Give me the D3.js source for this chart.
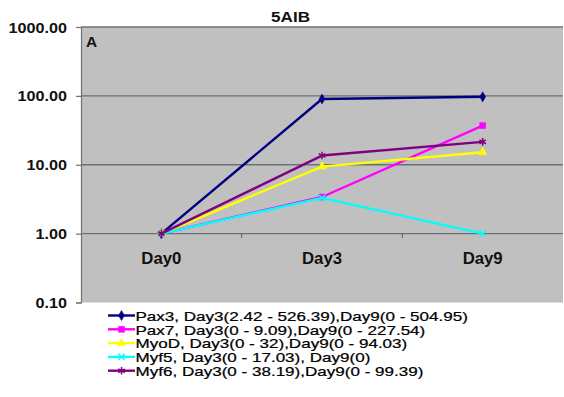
<!DOCTYPE html>
<html>
<head>
<meta charset="utf-8">
<script src="https://cdn.jsdelivr.net/npm/d3@7"></script>
<style>
  html, body { margin: 0; padding: 0; background: #fff; }
  svg { display: block; font-family: "Liberation Sans", Arial, sans-serif; }
</style>
</head>
<body>
<svg id="chart" width="564" height="397"></svg>
<script>
// Fold-change expression of myogenic markers (log scale)
const categories = ["Day0", "Day3", "Day9"];
const pax3 = [1, 90, 97];
const pax7 = [1, 3.4, 37];
const myoD = [1, 9.4, 15.2];
const myf5 = [1, 3.3, 1.0];
const myf6 = [1, 13.6, 21.5];
const yTicks = [0.1, 1, 10, 100, 1000];

const seriesNames = ["Pax3", "Pax7", "MyoD", "Myf5", "Myf6"];
const seriesLabels = [
  "Pax3, Day3(2.42 - 526.39),Day9(0 - 504.95)",
  "Pax7, Day3(0 - 9.09),Day9(0 - 227.54)",
  "MyoD, Day3(0 - 32),Day9(0 - 94.03)",
  "Myf5, Day3(0 - 17.03), Day9(0)",
  "Myf6, Day3(0 - 38.19),Day9(0 - 99.39)"
];
const seriesValues = [pax3, pax7, myoD, myf5, myf6];
const seriesColors = ["#000080", "#ff00ff", "#ffff00", "#00ffff", "#800080"];
const seriesMarkers = ["diamond", "square", "triangle", "cross", "star"];

const svg = d3.select("#chart");
const plot = { left: 81, right: 563, top: 27, bottom: 302.5 };

const x = d3.scalePoint().domain(categories).range([plot.left, plot.right]).padding(0.5);
const y = d3.scaleLog().domain([0.1, 1000]).range([plot.bottom, plot.top]);

// Horizontal stretch applied to text so glyph widths fit the layout
function stretch(sel, targetWidth) {
  const w = sel.node().getComputedTextLength();
  return w > 0 ? targetWidth / w : 1;
}
function placeText(sel, tx, ty, sx, sy = 1) {
  sel.attr("x", 0).attr("y", 0)
     .attr("transform", `translate(${tx},${ty}) scale(${sx},${sy})`);
}

// Plot background
svg.append("rect")
  .attr("x", plot.left).attr("y", plot.top)
  .attr("width", plot.right - plot.left).attr("height", plot.bottom - plot.top)
  .attr("fill", "#c0c0c0");

// Gridlines
svg.append("g").selectAll("line").data(yTicks.slice(1)).join("line")
  .attr("x1", plot.left).attr("x2", plot.right)
  .attr("y1", d => y(d)).attr("y2", d => y(d))
  .attr("stroke", "#707070").attr("stroke-width", 1.4);

// Y axis
const yAxis = svg.append("g")
  .attr("transform", `translate(${plot.left},0)`)
  .call(d3.axisLeft(y).tickValues(yTicks).tickFormat(d3.format(".2f")).tickSizeOuter(0).tickSize(5));
yAxis.select(".domain").attr("stroke", "#707070").attr("stroke-width", 1.2);
yAxis.selectAll(".tick line").attr("stroke", "#707070").attr("stroke-width", 1.2);
yAxis.selectAll(".tick text").remove();
const yLab = svg.append("g").attr("font-weight", "bold").attr("font-size", 14.5).attr("fill", "#111");
const yLabTexts = yLab.selectAll("text").data(yTicks).join("text")
  .attr("text-anchor", "end")
  .text(d => d3.format(".2f")(d));
const ySx = stretch(yLabTexts.filter(d => d === 1000), 58.5);
yLabTexts.each(function(d) { placeText(d3.select(this), 67, y(d) + 5.5, ySx); });

// Category axis crossing at 1.00
const xAxisY = y(1);
const bounds = d3.range(categories.length + 1).map(i => plot.left + i * x.step());
svg.append("g").selectAll("line").data(bounds.slice(1, -1)).join("line")
  .attr("x1", d => d).attr("x2", d => d)
  .attr("y1", xAxisY).attr("y2", xAxisY + 4)
  .attr("stroke", "#555").attr("stroke-width", 1);
const xLab = svg.append("g").attr("font-weight", "bold").attr("font-size", 16).attr("fill", "#111");
const xLabTexts = xLab.selectAll("text").data(categories).join("text")
  .attr("text-anchor", "middle").text(d => d);
const xSx = stretch(xLabTexts.filter(d => d === "Day0"), 40);
xLabTexts.each(function(d) { placeText(d3.select(this), x(d), 264, xSx); });

// Marker symbols
const symbolFor = {
  diamond: d3.symbol(d3.symbolDiamond, 30),
  square: d3.symbol(d3.symbolSquare, 36),
  triangle: d3.symbol(d3.symbolTriangle, 32),
  cross: d3.symbol(d3.symbolX, 28),
  star: d3.symbol(d3.symbolAsterisk, 40)
};
function drawMarker(g, kind, color, cx, cy) {
  const p = g.append("path")
    .attr("d", symbolFor[kind]())
    .attr("transform", `translate(${cx},${cy})`);
  if (kind === "cross" || kind === "star") {
    p.attr("fill", "none").attr("stroke", color).attr("stroke-width", 1.5);
  } else {
    p.attr("fill", color).attr("stroke", color).attr("stroke-width", 0.5);
  }
}

// Series lines and markers
const line = d3.line().x((d, i) => x(categories[i])).y(d => y(d));
seriesValues.forEach((vals, s) => {
  const g = svg.append("g");
  g.append("path").datum(vals)
    .attr("d", line)
    .attr("fill", "none")
    .attr("stroke", seriesColors[s])
    .attr("stroke-width", 2.4)
    .attr("stroke-linejoin", "round");
  vals.forEach((v, i) => drawMarker(g, seriesMarkers[s], seriesColors[s], x(categories[i]), y(v)));
});

// Panel letter and title
const panel = svg.append("text").attr("font-weight", "bold").attr("font-size", 14).attr("fill", "#111").text("A");
placeText(panel, 86, 46.5, 1.1);
const title = svg.append("text").attr("font-weight", "bold").attr("font-size", 15.5)
  .attr("fill", "#111").attr("text-anchor", "middle").text("5AIB");
placeText(title, 290.5, 21.5, stretch(title, 39));

// Legend
const legend = svg.append("g");
const legendRows = seriesLabels.map((t, i) => ({ t, i }));
const lgTexts = legend.selectAll("text").data(legendRows).join("text")
  .attr("font-size", 15).attr("fill", "#000").attr("stroke", "#000").attr("stroke-width", 0.25)
  .text(d => d.t);
const lgSx = stretch(lgTexts.filter(d => d.i === 0), 332.5);
lgTexts.each(function(d) { placeText(d3.select(this), 135.5, 320.7 + d.i * 13.8, lgSx, 0.86); });
legendRows.forEach(d => {
  const cy = 315.5 + d.i * 13.8;
  legend.append("line")
    .attr("x1", 108).attr("x2", 135).attr("y1", cy).attr("y2", cy)
    .attr("stroke", seriesColors[d.i]).attr("stroke-width", 2.4);
  drawMarker(legend, seriesMarkers[d.i], seriesColors[d.i], 121.5, cy);
});
</script>
</body>
</html>
